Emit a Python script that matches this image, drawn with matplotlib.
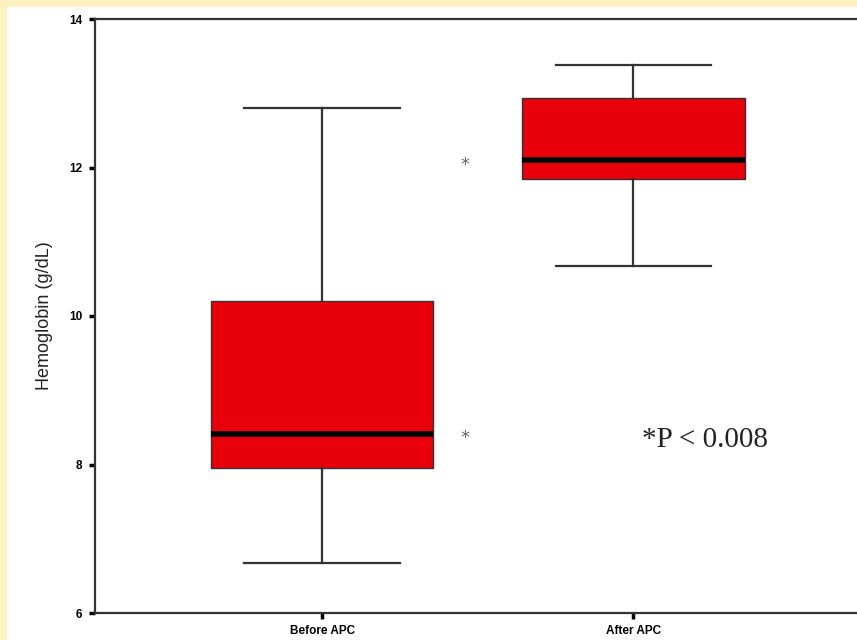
import matplotlib.pyplot as plt
from matplotlib.patches import Rectangle

# ---- data ----
groups = ["Before APC", "After APC"]
whislo = [6.68, 10.68]
q1 = [7.95, 11.85]
med = [8.41, 12.10]
q3 = [10.20, 12.93]
whishi = [12.80, 13.38]
star_y = [8.36, 12.03]
yticks = [6, 8, 10, 12, 14]

narrow = ["Liberation Sans Narrow", "DejaVu Sans Condensed", "Liberation Sans"]

fig = plt.figure(figsize=(8.57, 6.4), dpi=100)
fig.patch.set_facecolor("#fef1bf")
# white page area inside the yellow border
fig.patches.append(Rectangle((7 / 857, 0), 1, 633 / 640, transform=fig.transFigure,
                             facecolor="white", edgecolor="none", zorder=-10))

ax = fig.add_axes([95 / 857, 1 - 613 / 640, 1 - 95 / 857 + 0.004, 594 / 640])
ax.set_zorder(1)
ax.set_facecolor("white")

stats = []
for i, g in enumerate(groups):
    stats.append(dict(label=g, whislo=whislo[i], q1=q1[i], med=med[i],
                      q3=q3[i], whishi=whishi[i], fliers=[]))

ax.bxp(stats, positions=[1, 2], widths=0.715, patch_artist=True, showfliers=False,
       boxprops=dict(facecolor="#e8000b", edgecolor="#333333", linewidth=1.0),
       medianprops=dict(color="black", linewidth=4),
       whiskerprops=dict(color="#333333", linewidth=1.6),
       capprops=dict(color="#333333", linewidth=1.6),
       capwidths=0.5)

# significance stars sit between the two groups
for y in star_y:
    ax.text(1.46, y, "*", ha="center", va="center", fontsize=13, color="#666666")

ax.text(2.23, 8.33, "*P < 0.008", ha="center", va="center",
        fontsize=21, family="Liberation Serif", color="#222222")

ax.set_xlim(1 - 227 / 311, 2 + 227 / 311)
ax.set_ylim(6, 14)
ax.set_yticks(yticks)
ax.set_yticklabels([str(t) for t in yticks], fontsize=8.5, fontweight="bold",
                   family=narrow)
ax.set_xticks([1, 2])
ax.set_xticklabels(groups, fontsize=8.5, fontweight="bold", family=narrow)
ax.tick_params(axis="both", direction="out", length=4, width=2.5, color="black", pad=5)
ax.set_ylabel("Hemoglobin (g/dL)", fontsize=13, labelpad=12, color="#222222",
              family=narrow)

for s in ["left", "top", "bottom", "right"]:
    ax.spines[s].set_linewidth(1.6)
    ax.spines[s].set_color("#333333")

fig.savefig("out.png", dpi=100, facecolor=fig.get_facecolor())
